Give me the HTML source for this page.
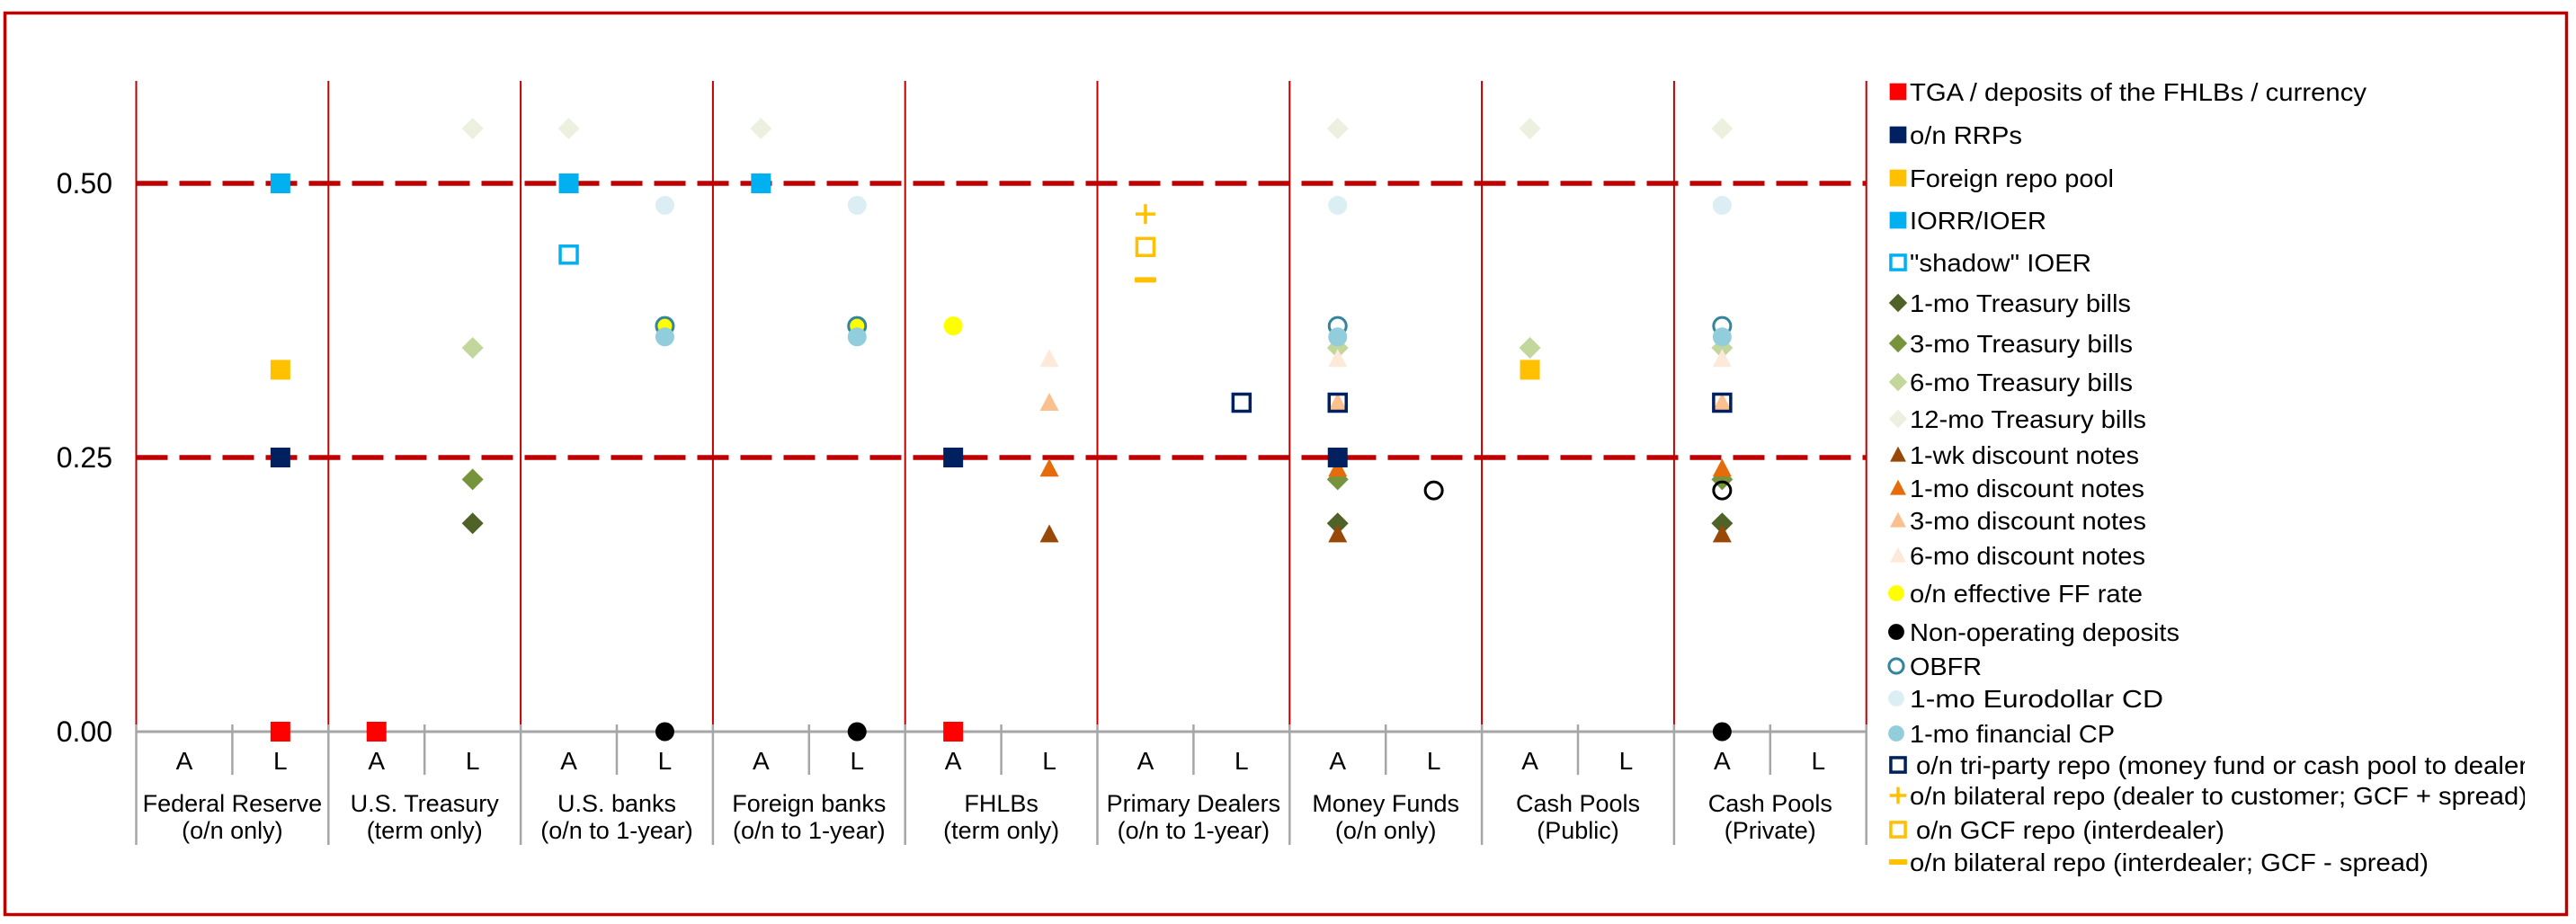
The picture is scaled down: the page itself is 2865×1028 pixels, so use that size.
<!DOCTYPE html>
<html><head><meta charset="utf-8">
<style>
html,body{margin:0;padding:0;background:#fff;}
svg{display:block;font-family:"Liberation Sans",Arial,sans-serif;}
</style></head>
<body>
<svg id="chart" width="2865" height="1028" viewBox="0 0 2865 1028" xmlns="http://www.w3.org/2000/svg">
<rect x="5.5" y="14.5" width="2849" height="1003" fill="#fff" stroke="#c00000" stroke-width="3.5"/>
<g id="grid"></g>
<g id="axes"></g>
<g id="marks"></g>
<g id="legend"></g>
</svg>
<script>
// ---- data ----
const groupNames = ["Federal Reserve","U.S. Treasury","U.S. banks","Foreign banks","FHLBs","Primary Dealers","Money Funds","Cash Pools","Cash Pools"];
const groupSubs = ["(o/n only)","(term only)","(o/n to 1-year)","(o/n to 1-year)","(term only)","(o/n to 1-year)","(o/n only)","(Public)","(Private)"];
const sideLabels = ["A","L"];
const yTicks = [0, 0.25, 0.5];
const yTickLabels = ["0.00","0.25","0.50"];
const refLines = [0.25, 0.5];
// columns: group*2 + (0=A,1=L)
const tgaCols = [1,2,8];            const tgaVals = [0,0,0];
const rrpCols = [1,8,12];           const rrpVals = [0.25,0.25,0.25];
const frpCols = [1,14];             const frpVals = [0.33,0.33];
const iorCols = [1,4,6];            const iorVals = [0.5,0.5,0.5];
const shdCols = [4];                const shdVals = [0.435];
const tb1Cols = [3,12,16];          const tb1Vals = [0.19,0.19,0.19];
const tb3Cols = [3,12,16];          const tb3Vals = [0.23,0.23,0.23];
const tb6Cols = [3,12,14,16];       const tb6Vals = [0.35,0.35,0.35,0.35];
const tb12Cols = [3,4,6,12,14,16];  const tb12Vals = [0.55,0.55,0.55,0.55,0.55,0.55];
const dnwCols = [9,12,16];          const dnwVals = [0.18,0.18,0.18];
const dn1Cols = [9,12,16];          const dn1Vals = [0.24,0.24,0.24];
const dn3Cols = [9,12,16];          const dn3Vals = [0.30,0.30,0.30];
const dn6Cols = [9,12,16];          const dn6Vals = [0.34,0.34,0.34];
const ffCols = [5,7,8];             const ffVals = [0.37,0.37,0.37];
const nodCols = [5,7,16];           const nodVals = [0,0,0];
const obfCols = [5,7,12,16];        const obfVals = [0.37,0.37,0.37,0.37];
const cdCols = [5,7,12,16];         const cdVals = [0.48,0.48,0.48,0.48];
const cpCols = [5,7,12,16];         const cpVals = [0.36,0.36,0.36,0.36];
const tpCols = [11,12,16];          const tpVals = [0.30,0.30,0.30];
const bplCols = [10];               const bplVals = [0.472];
const gcfCols = [10];               const gcfVals = [0.442];
const bmiCols = [10];               const bmiVals = [0.412];
const ocCols = [13,16];             const ocVals = [0.22,0.22];

// ---- scales ----
const X0 = 151.5, GW = 213.8, SUBW = GW/2;
const Y0 = 814, PXV = 1220;
function xCol(c){ return X0 + (c+0.5)*SUBW; }
function yVal(v){ return Y0 - v*PXV; }
const NS = "http://www.w3.org/2000/svg";
function mk(tag, attrs, parent){
  const e = document.createElementNS(NS, tag);
  for (const k in attrs) e.setAttribute(k, attrs[k]);
  parent.appendChild(e); return e;
}
function marker(shape, color, x, y, parent, s){
  s = s || 1;
  let e;
  if (shape==="sq") e = mk("rect",{x:x-11*s,y:y-11*s,width:22*s,height:22*s,fill:color},parent);
  else if (shape==="osq") e = mk("rect",{x:x-9.5*s,y:y-9.5*s,width:19*s,height:19*s,fill:"none",stroke:color,"stroke-width":3.5},parent);
  else if (shape==="dia") e = mk("polygon",{points:`${x},${y-12*s} ${x+12*s},${y} ${x},${y+12*s} ${x-12*s},${y}`,fill:color},parent);
  else if (shape==="tri") e = mk("polygon",{points:`${x},${y-11*s} ${x+10.5*s},${y+9*s} ${x-10.5*s},${y+9*s}`,fill:color},parent);
  else if (shape==="cir") e = mk("circle",{cx:x,cy:y,r:10.5*s,fill:color},parent);
  else if (shape==="ocir") e = mk("circle",{cx:x,cy:y,r:9.5*s,fill:"none",stroke:color,"stroke-width":3},parent);
  else if (shape==="plus"){
    e = mk("path",{d:`M${x-11*s},${y}H${x+11*s}M${x},${y-11*s}V${x?y+11*s:0}`,stroke:color,"stroke-width":3.5,fill:"none"},parent);
  }
  else if (shape==="minus") e = mk("rect",{x:x-12*s,y:y-3,width:24*s,height:6,rx:1.5,fill:color},parent);
  return e;
}

const grid = document.getElementById("grid");
const axes = document.getElementById("axes");
const marks = document.getElementById("marks");
const legend = document.getElementById("legend");

// vertical group separators
for (let g=0; g<=groupNames.length; g++){
  const x = X0 + g*GW;
  const l = mk("line",{x1:x,y1:90,x2:x,y2:Y0,stroke:"#c00000","stroke-width":2},grid);
  
  
  const l2 = mk("line",{x1:x,y1:Y0-8,x2:x,y2:940,stroke:"#a6a6a6","stroke-width":2.5},grid);
  
  
}
// reference dashed lines
refLines.forEach(v=>{
  const l = mk("line",{x1:X0,y1:yVal(v),x2:X0+9*GW,y2:yVal(v),stroke:"#c00000","stroke-width":5.5,"stroke-dasharray":"35 13"},grid);
  
  
});
// x axis
const xa = mk("line",{x1:X0,y1:Y0,x2:X0+9*GW,y2:Y0,stroke:"#a6a6a6","stroke-width":3},axes);


for (let g=0; g<groupNames.length; g++){
  const xm = X0 + g*GW + SUBW;
  const t = mk("line",{x1:xm,y1:Y0-8,x2:xm,y2:862,stroke:"#a6a6a6","stroke-width":2.5},axes);
  
  
  for (let s=0; s<2; s++){
    const tx = mk("text",{x:xCol(g*2+s),y:856,"font-size":28,"text-anchor":"middle",fill:"#000"},axes);
    tx.textContent = sideLabels[s];
    
    
  }
  const c1 = mk("text",{x:X0+g*GW+GW/2,y:903,"font-size":27,"text-anchor":"middle",fill:"#000"},axes);
  c1.textContent = groupNames[g];
  
  
  const c2 = mk("text",{x:X0+g*GW+GW/2,y:933,"font-size":27,"text-anchor":"middle",fill:"#000"},axes);
  c2.textContent = groupSubs[g];
  
  
}
yTicks.forEach((v,i)=>{
  const t = mk("text",{x:125,y:yVal(v)+11,"font-size":32,"text-anchor":"end",fill:"#000"},axes);
  t.textContent = yTickLabels[i];
  
  
});

// series definitions (legend order)
const series = [
 {n:"TGA / deposits of the FHLBs / currency", s:"sq", c:"#ff0000", cols:tgaCols, vals:tgaVals, ly:102, tl:508},
 {n:"o/n RRPs", s:"sq", c:"#002060", cols:rrpCols, vals:rrpVals, ly:150, tl:125},
 {n:"Foreign repo pool", s:"sq", c:"#ffc000", cols:frpCols, vals:frpVals, ly:198, tl:227},
 {n:"IORR/IOER", s:"sq", c:"#00b0f0", cols:iorCols, vals:iorVals, ly:245, tl:152},
 {n:"\"shadow\" IOER", s:"osq", c:"#00b0f0", cols:shdCols, vals:shdVals, ly:292, tl:202},
 {n:"1-mo Treasury bills", s:"dia", c:"#4f6228", cols:tb1Cols, vals:tb1Vals, ly:337, tl:246},
 {n:"3-mo Treasury bills", s:"dia", c:"#77933c", cols:tb3Cols, vals:tb3Vals, ly:382, tl:248},
 {n:"6-mo Treasury bills", s:"dia", c:"#c3d69b", cols:tb6Cols, vals:tb6Vals, ly:425, tl:248},
 {n:"12-mo Treasury bills", s:"dia", c:"#ebf1de", cols:tb12Cols, vals:tb12Vals, ly:466, tl:263},
 {n:"1-wk discount notes", s:"tri", c:"#984807", cols:dnwCols, vals:dnwVals, ly:506, tl:255},
 {n:"1-mo discount notes", s:"tri", c:"#e46c0a", cols:dn1Cols, vals:dn1Vals, ly:543, tl:261},
 {n:"3-mo discount notes", s:"tri", c:"#fac090", cols:dn3Cols, vals:dn3Vals, ly:579, tl:263},
 {n:"6-mo discount notes", s:"tri", c:"#fde9d9", cols:dn6Cols, vals:dn6Vals, ly:618, tl:262},
 {n:"o/n effective FF rate", s:"cir", c:"#ffff00", cols:ffCols, vals:ffVals, ly:660, tl:259},
 {n:"Non-operating deposits", s:"cir", c:"#000000", cols:nodCols, vals:nodVals, ly:703, tl:300},
 {n:"OBFR", s:"ocir", c:"#31859c", cols:obfCols, vals:obfVals, ly:741, tl:80},
 {n:"1-mo Eurodollar CD", s:"cir", c:"#dbeef4", cols:cdCols, vals:cdVals, ly:777, tl:282},
 {n:"1-mo financial CP", s:"cir", c:"#92cddc", cols:cpCols, vals:cpVals, ly:816, tl:228},
 {n:"o/n tri-party repo (money fund or cash pool to dealer)", s:"osq", c:"#002060", cols:tpCols, vals:tpVals, ly:851, tl:690, tx:2131},
 {n:"o/n bilateral repo (dealer to customer; GCF + spread)", s:"plus", c:"#ffc000", cols:bplCols, vals:bplVals, ly:885, tl:687},
 {n:"o/n GCF repo (interdealer)", s:"osq", c:"#ffc000", cols:gcfCols, vals:gcfVals, ly:923, tl:343, tx:2131},
 {n:"o/n bilateral repo (interdealer; GCF - spread)", s:"minus", c:"#ffc000", cols:bmiCols, vals:bmiVals, ly:959, tl:577},
 {n:null, s:"ocir", c:"#000000", cols:ocCols, vals:ocVals}
];
// drawing order for plot marks (indices into series)
const drawOrder = [8,7,6,5,12,11,10,9,0,1,2,3,4,13,14,15,17,16,18,19,20,21,22];
drawOrder.forEach(i=>{
  const sr = series[i];
  sr.cols.forEach((c,j)=>{
    const m = marker(sr.s, sr.c, xCol(c), yVal(sr.vals[j]), marks);
    
    
  });
});
// legend
const clip = mk("clipPath",{id:"lgclip"},legend);
mk("rect",{x:2090,y:0,width:718,height:1028},clip);
series.forEach(sr=>{
  if(!sr.n) return;
  const g = mk("g",{},legend);
  
  
  const mx = sr.s==="cir"||sr.s==="ocir" ? 2109 : 2111;
  marker(sr.s, sr.c, mx, sr.ly, g, 0.85);
  const t = mk("text",{x:sr.tx||2124,y:sr.ly+10,"font-size":28,fill:"#000",textLength:sr.tl,lengthAdjust:"spacingAndGlyphs","clip-path":"url(#lgclip)"},g);
  t.textContent = sr.n;
});
</script>
</body></html>
